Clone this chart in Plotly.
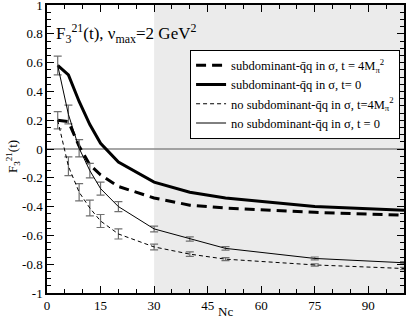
import plotly.graph_objects as go

nc = [3, 6, 9, 12, 15, 20, 30, 40, 50, 75, 100]

sub_t4m = [0.20, 0.19, 0.02, -0.11, -0.18, -0.26, -0.34, -0.39, -0.41, -0.44, -0.46]
sub_t0 = [0.58, 0.515, 0.33, 0.17, 0.04, -0.09, -0.23, -0.30, -0.34, -0.40, -0.425]
nosub_t4m = [0.20, -0.12, -0.30, -0.41, -0.50, -0.59, -0.68, -0.73, -0.765, -0.805, -0.83]
nosub_t4m_err = [0.06, 0.065, 0.06, 0.055, 0.045, 0.035, 0.02, 0.015, 0.01, 0.008, 0.008]
nosub_t0 = [0.58, 0.24, 0.005, -0.15, -0.275, -0.40, -0.555, -0.625, -0.69, -0.76, -0.79]
nosub_t0_err = [0.065, 0.065, 0.06, 0.05, 0.045, 0.035, 0.02, 0.015, 0.012, 0.01, 0.008]

x_ticks = [0, 15, 30, 45, 60, 75, 90]
y_ticks = [1, 0.8, 0.6, 0.4, 0.2, 0, -0.2, -0.4, -0.6, -0.8, -1]
y_ticktext = ["1", "0.8", "0.6", "0.4", "0.2", "0", "-0.2", "-0.4", "-0.6", "-0.8", "-1"]

FONT = "Liberation Serif, Times New Roman, serif"
ERRC = "#707070"

fig = go.Figure()

fig.add_trace(go.Scatter(
    x=nc, y=sub_t4m, mode="lines",
    line=dict(color="black", width=3, dash="10px,6px"),
    name="subdominant-q\u0304q in σ, t = 4M<sub>π</sub><sup>2</sup>"))
fig.add_trace(go.Scatter(
    x=nc, y=sub_t0, mode="lines",
    line=dict(color="black", width=3),
    name="subdominant-q\u0304q in σ, t= 0"))
fig.add_trace(go.Scatter(
    x=nc, y=nosub_t4m, mode="lines",
    line=dict(color="black", width=1, dash="4px,3px"),
    error_y=dict(type="data", array=nosub_t4m_err, color=ERRC, thickness=1.2, width=4),
    name="no subdominant-q\u0304q in σ, t=4M<sub>π</sub><sup>2</sup>"))
fig.add_trace(go.Scatter(
    x=nc, y=nosub_t0, mode="lines",
    line=dict(color="black", width=1),
    error_y=dict(type="data", array=nosub_t0_err, color=ERRC, thickness=1.2, width=4),
    name="no subdominant-q\u0304q in σ, t = 0"))

fig.add_shape(type="rect", xref="x", yref="paper", x0=30, x1=100, y0=0, y1=1,
              fillcolor="#ebebeb", line=dict(width=0), layer="below")
fig.add_shape(type="line", xref="paper", yref="y", x0=0, x1=1, y0=0, y1=0,
              line=dict(color="#888888", width=1.5), layer="below")

fig.add_annotation(x=2, y=0.8, xref="x", yref="y", xanchor="left", yanchor="middle",
                   text="F<sub>3</sub><sup>21</sup>(t), ν<sub>max</sub>=2 GeV<sup>2</sup>",
                   showarrow=False, font=dict(family=FONT, size=17, color="black"))
fig.add_annotation(x=0.5, y=0, xref="paper", yref="paper", xanchor="center", yanchor="middle",
                   yshift=-18, text="Nc", showarrow=False,
                   font=dict(family=FONT, size=13, color="black"))
fig.add_annotation(x=0, y=0.5, xref="paper", yref="paper", xanchor="center", yanchor="middle",
                   xshift=-34, yshift=-8, textangle=-90, text="F<sub>3</sub><sup>21</sup>(t)",
                   showarrow=False, font=dict(family=FONT, size=13, color="black"))

axis_common = dict(showline=True, linecolor="black", linewidth=1.5, mirror="ticks",
                   ticks="inside", ticklen=7, tickcolor="black", tickwidth=1,
                   showgrid=False, zeroline=False, automargin=False,
                   ticklabeloverflow="allow",
                   tickfont=dict(family=FONT, size=13, color="black"))

fig.update_xaxes(range=[0, 100], tickmode="array", tickvals=x_ticks,
                 minor=dict(tickmode="linear", tick0=0, dtick=5, ticks="inside",
                            ticklen=4, tickcolor="black"),
                 ticklabelstandoff=0,
                 **axis_common)
fig.update_yaxes(range=[-1, 1], tickmode="array", tickvals=y_ticks, ticktext=y_ticktext,
                 minor=dict(tickmode="linear", tick0=0, dtick=0.05, ticks="inside",
                            ticklen=4, tickcolor="black"),
                 **axis_common)

fig.update_layout(
    width=407, height=318,
    margin=dict(l=47, r=3, t=5, b=25),
    plot_bgcolor="white", paper_bgcolor="white",
    font=dict(family=FONT, color="black"),
    legend=dict(x=0.989, y=0.845, xanchor="right", yanchor="top",
                bgcolor="white", bordercolor="black", borderwidth=1,
                font=dict(family=FONT, size=12.5, color="black"),
                itemwidth=30, tracegroupgap=0),
    showlegend=True,
)

fig.write_html("out.html", config={"displayModeBar": False},
               post_script="document.body.style.margin='0';document.body.style.padding='0';document.body.style.overflow='hidden';")
